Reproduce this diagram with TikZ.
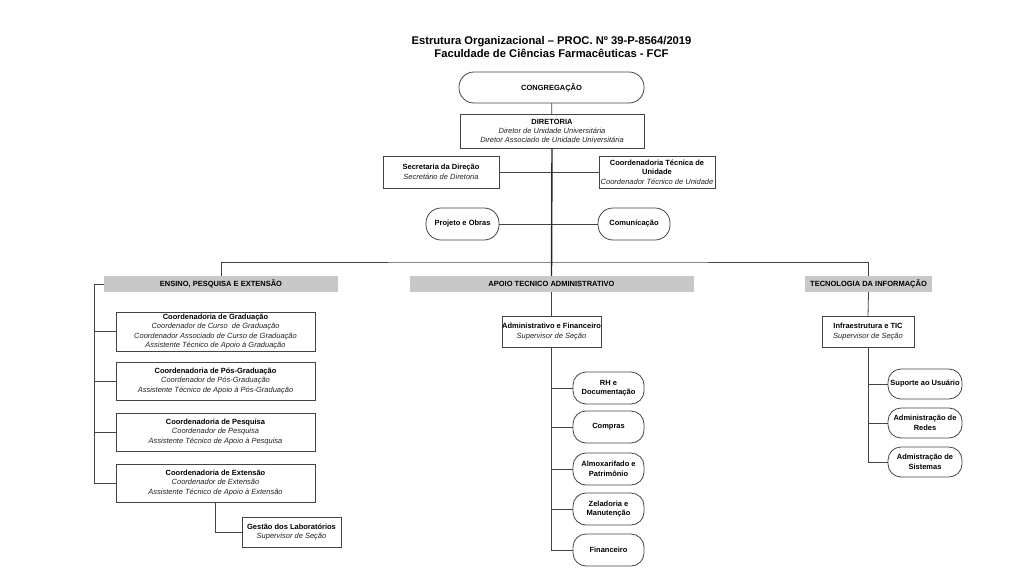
\documentclass[tikz,border=0pt]{standalone}
\usepackage{fontspec}
\setmainfont{Liberation Sans}
\definecolor{lc}{HTML}{444444}
\definecolor{hd}{HTML}{C8C8C8}
\definecolor{it}{HTML}{222222}
\begin{document}
\begin{tikzpicture}[x=1pt,y=-1pt,
  every node/.style={inner sep=0pt, outer sep=0pt},
  box/.style={draw=lc, line width=0.8pt, fill=white, align=center,
     font=\fontsize{7.5}{9.4}\selectfont, rectangle},
  pill/.style={box, rounded corners=13pt},
  head/.style={fill=hd, align=center, font=\bfseries\fontsize{7.5}{9}\selectfont,
     minimum height=16pt},
  link/.style={draw=lc, line width=0.8pt},
  trunk/.style={draw=black!85, line width=1.4pt}]
\useasboundingbox (0,0) rectangle (1024,578);
\newcommand{\ib}[1]{\textcolor{it}{\itshape #1}}

\node[align=center, font=\bfseries\fontsize{11.2}{13}\selectfont] (title) at (551.5,46.5)
  {Estrutura Organizacional -- PROC. Nº 39-P-8564/2019\\Faculdade de Ciências Farmacêuticas - FCF};

\node[pill, rounded corners=15pt, minimum width=185pt, minimum height=31pt] (cong) at (551.5,87.5) {\textbf{CONGREGAÇÃO}};
\node[box, minimum width=184pt, minimum height=34pt] (dir) at (552,131)
  {\textbf{DIRETORIA}\\\ib{Diretor de Unidade Universitária}\\\ib{Diretor Associado de Unidade Universitária}};
\node[box, minimum width=116pt, minimum height=32pt] (sec) at (441,172)
  {\textbf{Secretaria da Direção}\\\ib{Secretário de Diretoria}};
\node[box, minimum width=116pt, minimum height=32pt] (ctu) at (657,172)
  {\textbf{Coordenadoria Técnica de}\\\textbf{Unidade}\\\ib{Coordenador Técnico de Unidade}};
\node[pill, rounded corners=15pt, minimum width=73pt, minimum height=32pt] (proj) at (462.5,224) {\textbf{Projeto e Obras}};
\node[pill, rounded corners=15pt, minimum width=72pt, minimum height=32pt] (com) at (634,224) {\textbf{Comunicação}};

\node[head, minimum width=234pt] (ens) at (221,284) {ENSINO, PESQUISA E EXTENSÃO};
\node[head, minimum width=284pt] (apo) at (551.5,284) {APOIO TECNICO ADMINISTRATIVO};
\node[head, minimum width=127pt] (ti) at (868.5,284) {TECNOLOGIA DA INFORMAÇÃO};

\node[box, minimum width=199pt, minimum height=39pt] (grad) at (215.5,331.5)
  {\textbf{Coordenadoria de Graduação}\\\ib{Coordenador de Curso\ \ de Graduação}\\\ib{Coordenador Associado de Curso de Graduação}\\\ib{Assistente Técnico de Apoio à Graduação}};
\node[box, minimum width=199pt, minimum height=38pt] (pos) at (215.5,381)
  {\textbf{Coordenadoria de Pós-Graduação}\\\ib{Coordenador de Pós-Graduação}\\\ib{Assistente Técnico de Apoio à Pós-Graduação}};
\node[box, minimum width=199pt, minimum height=38pt] (pesq) at (215.5,432)
  {\textbf{Coordenadoria de Pesquisa}\\\ib{Coordenador de Pesquisa}\\\ib{Assistente Técnico de Apoio à Pesquisa}};
\node[box, minimum width=199pt, minimum height=38pt] (ext) at (215.5,483)
  {\textbf{Coordenadoria de Extensão}\\\ib{Coordenador de Extensão}\\\ib{Assistente Técnico de Apoio à Extensão}};
\node[box, minimum width=99pt, minimum height=30pt] (lab) at (291.5,532)
  {\textbf{Gestão dos Laboratórios}\\\ib{Supervisor de Seção}};

\node[box, minimum width=99pt, minimum height=31pt] (adm) at (551.5,331.5)
  {\textbf{Administrativo e Financeiro}\\\ib{Supervisor de Seção}};
\node[pill, minimum width=71pt, minimum height=32pt] (rh) at (608.5,388) {\textbf{RH e}\\\textbf{Documentação}};
\node[pill, minimum width=71pt, minimum height=32pt] (comp) at (608.5,427) {\textbf{Compras}};
\node[pill, minimum width=71pt, minimum height=32pt] (alm) at (608.5,469) {\textbf{Almoxarifado e}\\\textbf{Patrimônio}};
\node[pill, minimum width=71pt, minimum height=32pt] (zel) at (608.5,509) {\textbf{Zeladoria e}\\\textbf{Manutenção}};
\node[pill, minimum width=71pt, minimum height=32pt] (fin) at (608.5,550) {\textbf{Financeiro}};

\node[box, minimum width=92pt, minimum height=31pt] (inf) at (868,331.5)
  {\textbf{Infraestrutura e TIC}\\\ib{Supervisor de Seção}};
\node[pill, minimum width=74pt, minimum height=30pt] (sup) at (925,384) {\textbf{Suporte ao Usuário}};
\node[pill, minimum width=74pt, minimum height=30pt] (red) at (925,423) {\textbf{Administração de}\\\textbf{Redes}};
\node[pill, minimum width=74pt, minimum height=30pt] (sis) at (925,462) {\textbf{Admistração de}\\\textbf{Sistemas}};

\coordinate (bar) at (551.5,262);
\coordinate (elx) at (94,0);

% top links
\draw[link] (cong) -- (dir);
\draw[link] (sec.east) -- (ctu.west);
\draw[link] (proj.east) -- (com.west);
\draw[link] (ens.north) |- (bar) -| (ti.north);
\draw[trunk] (dir.south) -- (apo.north);

% ensino
\draw[link] (ens.west) -- (ens.west -| elx) -- (ext.west -| elx) -- (ext.west);
\draw[link] (grad.west -| elx) -- (grad.west);
\draw[link] (pos.west -| elx) -- (pos.west);
\draw[link] (pesq.west -| elx) -- (pesq.west);
\draw[link] (ext.south) |- (lab.west);

% apoio
\draw[link] (apo.south) -- (adm.north);
\draw[link] (adm.south) |- (fin.west);
\draw[link] (rh.west -| adm.south) -- (rh.west);
\draw[link] (comp.west -| adm.south) -- (comp.west);
\draw[link] (alm.west -| adm.south) -- (alm.west);
\draw[link] (zel.west -| adm.south) -- (zel.west);

% TI
\draw[link] (ti.south) -- (inf.north);
\draw[link] (inf.south) |- (sis.west);
\draw[link] (sup.west -| inf.south) -- (sup.west);
\draw[link] (red.west -| inf.south) -- (red.west);
\end{tikzpicture}
\end{document}
